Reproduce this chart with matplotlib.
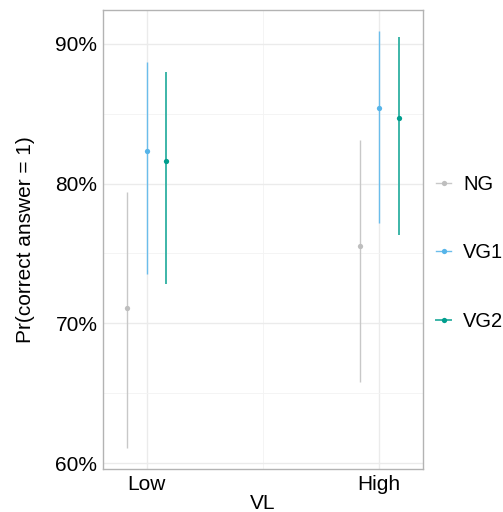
import matplotlib
matplotlib.use("Agg")
import matplotlib.pyplot as plt
from matplotlib.lines import Line2D
from matplotlib.ticker import FuncFormatter, MultipleLocator

plt.rcParams['font.family'] = ['Liberation Sans', 'DejaVu Sans']

categories = ["Low", "High"]
groups = ["NG", "VG1", "VG2"]
estimates = {
    "NG":  [71.1, 75.5],
    "VG1": [82.3, 85.4],
    "VG2": [81.6, 84.7],
}
lower = {
    "NG":  [61.1, 65.8],
    "VG1": [73.5, 77.2],
    "VG2": [72.8, 76.3],
}
upper = {
    "NG":  [79.4, 83.1],
    "VG1": [88.7, 90.9],
    "VG2": [88.0, 90.5],
}
colors = {"NG": "#BEBEBE", "VG1": "#56B4E9", "VG2": "#009E8E"}
line_colors = {"NG": "#C8C8C8", "VG1": "#6BBDEB", "VG2": "#3DB5A8"}
offsets = {"NG": -0.083, "VG1": 0.0, "VG2": 0.083}
lws = {"NG": 1.0, "VG1": 1.0, "VG2": 1.4}

fs = 15

fig = plt.figure(figsize=(5.03, 5.12), dpi=100)
ax = fig.add_axes([103/503, 43/512, 320/503, 459/512])

xbase = [1, 2]
for g in groups:
    xs = [x + offsets[g] for x in xbase]
    ax.vlines(xs, lower[g], upper[g], colors=line_colors[g], linewidth=lws[g], zorder=3)
    ax.plot(xs, estimates[g], 'o', color=colors[g], markersize=3.8, zorder=4, markeredgewidth=0)

ax.set_xlim(0.812, 2.188)
ax.set_ylim(59.6, 92.4)
ax.set_xticks(xbase)
ax.set_xticklabels(categories)
ax.set_xticks([1.5], minor=True)
ax.yaxis.set_major_locator(MultipleLocator(10))
ax.yaxis.set_minor_locator(MultipleLocator(5))
ax.yaxis.set_major_formatter(FuncFormatter(lambda v, p: f"{v:.0f}%"))

ax.grid(True, which='major', color='#EBEBEB', linewidth=1.0, zorder=0)
ax.grid(True, which='minor', color='#F3F3F3', linewidth=0.6, zorder=0)
ax.set_axisbelow(True)
for s in ax.spines.values():
    s.set_color('#B3B3B3')
    s.set_linewidth(1.0)
ax.tick_params(which='both', length=0, labelsize=fs, colors='black', pad=4)

ax.set_xlabel("VL", fontsize=fs, labelpad=0)
ax.set_ylabel("Pr(correct answer = 1)", fontsize=fs, labelpad=15)

handles = [Line2D([0], [0], color=line_colors[g], lw=lws[g], marker='o',
                  markerfacecolor=colors[g], markeredgewidth=0, markersize=3.8)
           for g in groups]
fig.legend(handles, groups, loc='center left', bbox_to_anchor=(436/503, 1 - 253/512),
           frameon=False, fontsize=14.5, handlelength=0.75, handletextpad=0.6,
           labelspacing=2.45, borderaxespad=0, borderpad=0)

fig.savefig("out.png", dpi=100)
